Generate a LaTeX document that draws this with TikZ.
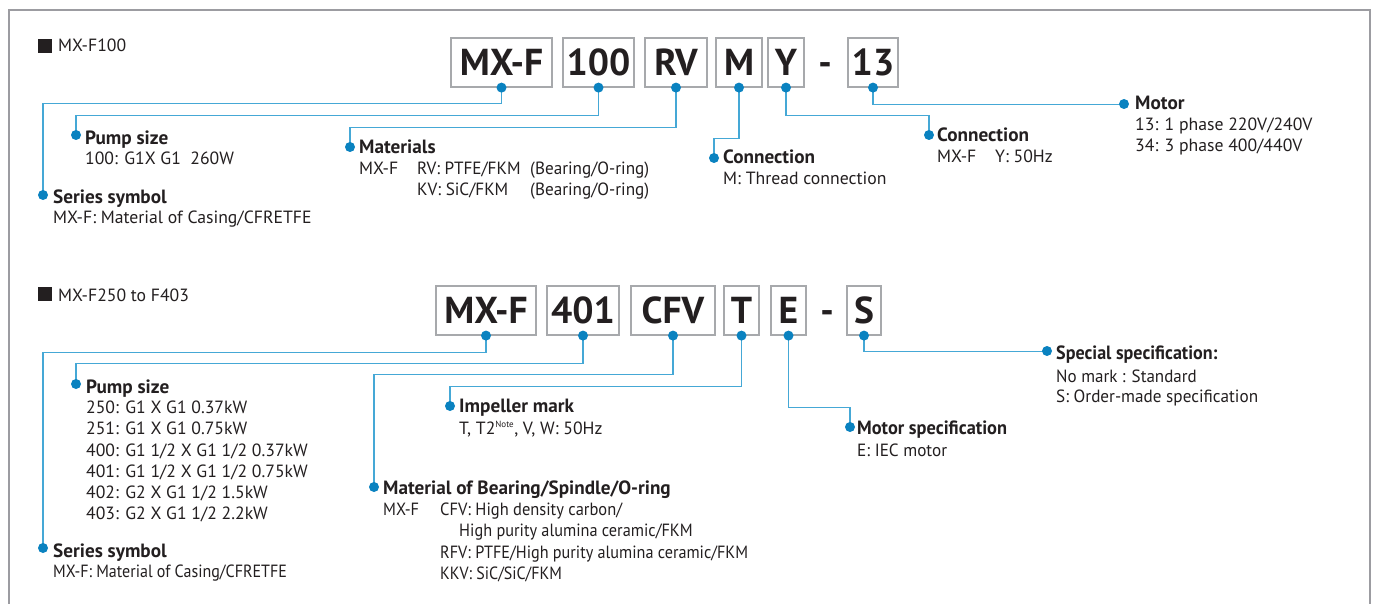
\documentclass[tikz,border=0pt]{standalone}
\usepackage{graphicx}
\usepackage{fontspec}
\setmainfont{PT Sans}
\definecolor{txt}{HTML}{231F20}
\definecolor{lineblue}{HTML}{45A8D6}
\definecolor{dotblue}{HTML}{0A82C0}
\definecolor{boxgray}{HTML}{A7A9AC}
\definecolor{framegray}{HTML}{9C9CA1}
\newcommand{\cnd}[2]{\scalebox{#1}[1]{#2}}
\tikzset{
  codebox/.style={draw=boxgray, line width=1.2pt, inner sep=0pt, minimum height=49pt,
    text height=25.5pt, text depth=0pt, font=\fontsize{37.5}{38}\selectfont\bfseries, text=txt},
  dashsym/.style={inner sep=0pt, text height=25.5pt, text depth=0pt, font=\fontsize{37.5}{38}\selectfont\bfseries, text=txt},
  lbl/.style={anchor=base west, inner sep=0pt, font=\fontsize{17.7}{20}\selectfont, text=txt},
  hdr/.style={anchor=base west, inner sep=0pt, font=\fontsize{19.2}{21}\selectfont\bfseries, text=txt},
  conn/.style={draw=lineblue, line width=1.5pt},
  bluedot/.style={fill=dotblue},
  marker/.style={fill=txt}
}
\begin{document}
\begin{tikzpicture}[x=1pt,y=-1pt]
\useasboundingbox (0,0) rectangle (1375,604);
\fill[white] (0,0) rectangle (1375,604);
% frame
\draw[framegray, line width=2pt] (9,610) -- (9,10) -- (1370,10) -- (1370,610);

% ================= Row 1 =================
\fill[marker] (38,39) rectangle (52,53);
\node[lbl] (t1) at (58,52) {MX-F100};

\node[codebox, minimum width=101pt] (a1) at (501.5,62.5) {MX-F};
\node[codebox, minimum width=71pt] (a2) at (598.5,62.5) {100};
\node[codebox, minimum width=62pt] (a3) at (676,62.5) {RV};
\node[codebox, minimum width=46pt] (a4) at (739,62.5) {M};
\node[codebox, minimum width=36pt] (a5) at (786,62.5) {Y};
\node[dashsym] (ad) at (825,62.5) {-};
\node[codebox, minimum width=50pt] (a6) at (873,62.5) {13};

\coordinate (dS1) at (43,195);
\coordinate (dP1) at (76,135);
\coordinate (dM1) at (350,147);
\coordinate (dC1) at (714,158);
\coordinate (dY1) at (929,135);
\coordinate (dMo1) at (1124,104);

\draw[conn] (a1.south) -- ++(0,16) -| (dS1);
\draw[conn] (a2.south) -- ++(0,28) -| (dP1);
\draw[conn] (a3.south) -- ++(0,40) -| (dM1);
\draw[conn] (a4.south) -- ++(0,51) -| (dC1);
\draw[conn] (a5.south) -- ++(0,28) -| (dY1);
\draw[conn] (a6.south) -- ++(0,17) -| (dMo1);

\foreach \p in {a1.south,a2.south,a3.south,a4.south,a5.south,a6.south,dS1,dP1,dM1,dC1,dY1,dMo1}
  \fill[bluedot] (\p) circle (5pt);

\node[hdr] (s1h) at (53,203.5) {Series symbol};
\node[lbl] (s1a) at (53,223.5) {MX-F: Material of Casing/CFRETFE};

\node[hdr] (p1h) at (85,144.5) {Pump size};
\node[lbl] (p1a) at (85,164.5) {100: G1X G1\ \ 260W};

\node[hdr] (m1h) at (359,154) {Materials};
\node[lbl] (m1a) at (359,174.5) {MX-F};
\node[lbl] (m1b) at (417,174.5) {\cnd{0.97}{RV: PTFE/FKM}};
\node[lbl] (m1c) at (530,174.5) {\cnd{0.97}{(Bearing/O-ring)}};
\node[lbl] (m1d) at (417,196) {\cnd{0.97}{KV: SiC/FKM}};
\node[lbl] (m1e) at (530,196) {\cnd{0.97}{(Bearing/O-ring)}};

\node[hdr] (c1h) at (723,164) {Connection};
\node[lbl] (c1a) at (723,184.5) {M: Thread connection};

\node[hdr] (y1h) at (937,142) {Connection};
\node[lbl] (y1a) at (937,162.5) {MX-F};
\node[lbl] (y1b) at (995,162.5) {Y: 50Hz};

\node[hdr] (o1h) at (1135,110) {Motor};
\node[lbl] (o1a) at (1135,130.5) {13: 1 phase 220V/240V};
\node[lbl] (o1b) at (1135,152) {34: 3 phase 400/440V};

% ================= Row 2 =================
\fill[marker] (38,287) rectangle (52,301);
\node[lbl] (t2) at (58,301) {MX-F250 to F403};

\node[codebox, minimum width=100pt] (b1) at (486,310.5) {MX-F};
\node[codebox, minimum width=72pt] (b2) at (583,310.5) {401};
\node[codebox, minimum width=84pt] (b3) at (673,310.5) {CFV};
\node[codebox, minimum width=35pt] (b4) at (741.5,310.5) {T};
\node[codebox, minimum width=35pt] (b5) at (788.5,310.5) {E};
\node[dashsym] (bd) at (827,310.5) {-};
\node[codebox, minimum width=34pt] (b6) at (864,310.5) {S};

\coordinate (dS2) at (43,548);
\coordinate (dP2) at (76,384);
\coordinate (dM2) at (374,487);
\coordinate (dI2) at (450,406);
\coordinate (dE2) at (850,427);
\coordinate (dSp2) at (1047,351);

\draw[conn] (b1.south) -- ++(0,17) -| (dS2);
\draw[conn] (b2.south) -- ++(0,28) -| (dP2);
\draw[conn] (b3.south) -- ++(0,39) -| (dM2);
\draw[conn] (b4.south) -- ++(0,51) -| (dI2);
\draw[conn] (b5.south) -- ++(0,72) -| (dE2);
\draw[conn] (b6.south) -- ++(0,16) -| (dSp2);

\foreach \p in {b1.south,b2.south,b3.south,b4.south,b5.south,b6.south,dS2,dP2,dM2,dI2,dE2,dSp2}
  \fill[bluedot] (\p) circle (5pt);

\node[hdr] (s2h) at (53,557) {Series symbol};
\node[lbl] (s2a) at (53,577.5) {\cnd{0.905}{MX-F: Material of Casing/CFRETFE}};

\node[hdr] (p2h) at (86,393) {Pump size};
\node[lbl] (p2a) at (86,413.5) {250: G1 X G1 0.37kW};
\node[lbl] (p2b) at (86,434.5) {251: G1 X G1 0.75kW};
\node[lbl] (p2c) at (86,456) {400: G1 1/2 X G1 1/2 0.37kW};
\node[lbl] (p2d) at (86,477) {401: G1 1/2 X G1 1/2 0.75kW};
\node[lbl] (p2e) at (86,498) {402: G2 X G1 1/2 1.5kW};
\node[lbl] (p2f) at (86,519) {403: G2 X G1 1/2 2.2kW};

\node[hdr] (i2h) at (459,412) {Impeller mark};
\node[lbl] (i2a) at (459,434) {T, T2\textsuperscript{\fontsize{9}{10}\selectfont Note}, V, W: 50Hz};

\node[hdr] (m2h) at (383,494) {Material of Bearing/Spindle/O-ring};
\node[lbl] (m2a) at (383,515) {\cnd{0.92}{MX-F}};
\node[lbl] (m2b) at (440,515) {\cnd{0.93}{CFV: High density carbon/}};
\node[lbl] (m2c) at (459,536) {\cnd{0.92}{High purity alumina ceramic/FKM}};
\node[lbl] (m2d) at (440,558) {\cnd{0.915}{RFV: PTFE/High purity alumina ceramic/FKM}};
\node[lbl] (m2e) at (440,579) {\cnd{0.9}{KKV: SiC/SiC/FKM}};

\node[hdr] (e2h) at (857,434) {\cnd{0.955}{Motor specification}};
\node[lbl] (e2a) at (857,456) {\cnd{0.97}{E: IEC motor}};

\node[hdr] (sp2h) at (1056,359) {\cnd{0.94}{Special specification:}};
\node[lbl] (sp2a) at (1056,382) {\cnd{0.96}{No mark : Standard}};
\node[lbl] (sp2b) at (1056,402) {\cnd{0.97}{S: Order-made specification}};
\end{tikzpicture}
\end{document}
